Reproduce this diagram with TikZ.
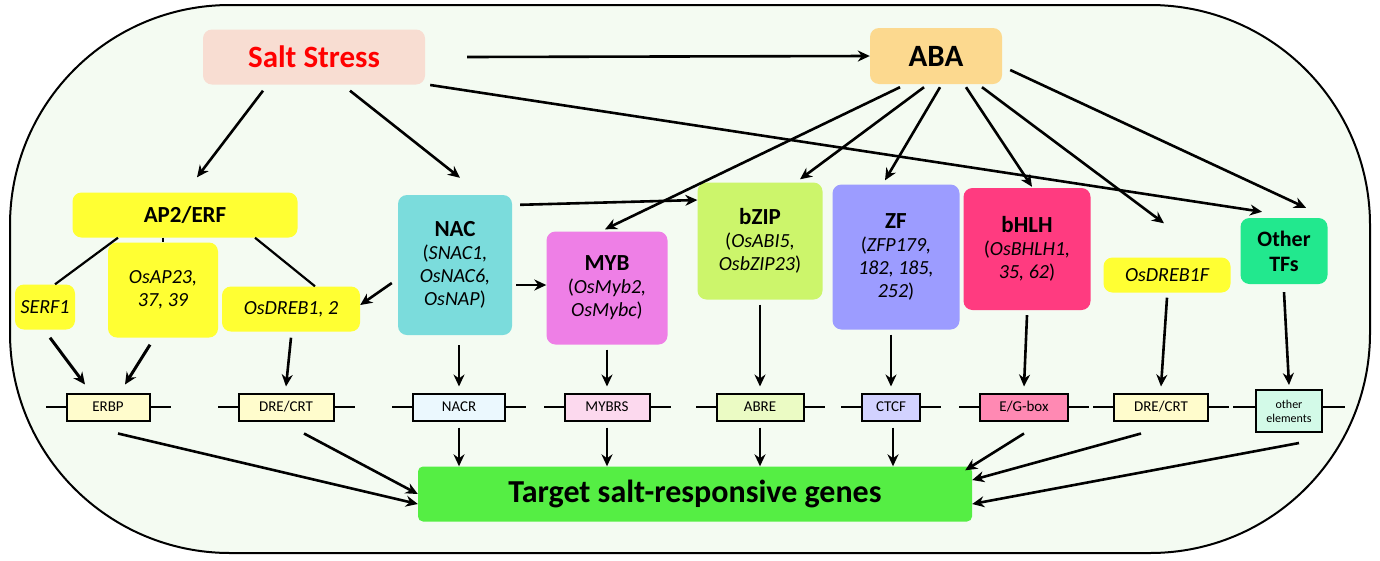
\documentclass[tikz,border=0pt]{standalone}
\usepackage{fontspec}
\setmainfont{Carlito}
\usetikzlibrary{arrows.meta}
\definecolor{Peach}{HTML}{F8DDD2}
\definecolor{AbaOr}{HTML}{FCD98F}
\definecolor{Yel}{HTML}{FFFF33}
\definecolor{NacC}{HTML}{7BDCDC}
\definecolor{MybC}{HTML}{EE7FE6}
\definecolor{BzipC}{HTML}{CCF56B}
\definecolor{ZfC}{HTML}{9C9CFF}
\definecolor{BhlhC}{HTML}{FF3B80}
\definecolor{OtherC}{HTML}{22E88E}
\definecolor{TgtC}{HTML}{55EE44}
\definecolor{Bg}{HTML}{F4FBF2}
\begin{document}
\begin{tikzpicture}[
          x=1pt,y=-1pt,
          % Environment Config
          TF/.style={% Style for the factor boxes
            rounded corners=9pt,
            align=center,
            inner sep=0pt,
            font=\fontsize{20}{23}\selectfont
          },
          Elem/.style={% Style for the cis elements
            draw,
            line width=2pt,
            minimum height=27pt,
            inner sep=2pt,
            font=\fontsize{15}{15}\selectfont
          },
          MyArrow/.style={% Style for the arrows
            -{Stealth[length=12pt,width=11pt]},
            line width=2.6pt
          },
          Link/.style={line width=2.2pt}
        ]

        \useasboundingbox (0,0) rectangle (1380,560);
        \draw[line width=2pt,fill=Bg,rounded corners=220pt] (10,5) rectangle (1370,553);

        % Top level
        \node[TF,fill=Peach,minimum width=222pt,minimum height=55pt,text=red,
              font=\fontsize{31}{31}\selectfont\bfseries] (salt) at (314,57) {Salt Stress};
        \node[TF,fill=AbaOr,minimum width=132pt,minimum height=56pt,
              font=\fontsize{31}{31}\selectfont\bfseries] (aba) at (936,56) {ABA};

        % Transcription factors
        \node[TF,fill=Yel,minimum width=225pt,minimum height=45pt,font=\fontsize{23}{23}\selectfont\bfseries] (ap2) at (185,215) {AP2/ERF};
        \node[TF,fill=Yel,minimum width=60pt,minimum height=45pt] (serf) at (45,307) {\itshape SERF1};
        \node[TF,fill=Yel,minimum width=110pt,minimum height=95pt] (osap) at (163,290) {\itshape OsAP23,\\ \itshape 37, 39};
        \node[TF,fill=Yel,minimum width=138pt,minimum height=45pt] (osdreb) at (291,309) {\itshape OsDREB1, 2};
        \node[TF,fill=NacC,minimum width=114pt,minimum height=140pt] (nac) at (455,265)
              {{\fontsize{23}{26}\selectfont\bfseries NAC}\\(\textit{SNAC1,}\\\textit{OsNAC6,}\\\textit{OsNAP})};
        \node[TF,fill=MybC,minimum width=121pt,minimum height=113pt] (myb) at (607,288)
              {{\fontsize{23}{26}\selectfont\bfseries MYB}\\(\textit{OsMyb2,}\\\textit{OsMybc})};
        \node[TF,fill=BzipC,minimum width=125pt,minimum height=117pt] (bzip) at (760,241)
              {{\fontsize{23}{26}\selectfont\bfseries bZIP}\\(\textit{OsABI5,}\\\textit{OsbZIP23})};
        \node[TF,fill=ZfC,minimum width=127pt,minimum height=145pt] (zf) at (896,257)
              {{\fontsize{23}{26}\selectfont\bfseries ZF}\\(\textit{ZFP179,}\\\textit{182, 185,}\\\textit{252})};
        \node[TF,fill=BhlhC,minimum width=127pt,minimum height=122pt] (bhlh) at (1027,249)
              {{\fontsize{23}{26}\selectfont\bfseries bHLH}\\(\textit{OsBHLH1,}\\\textit{35, 62})};
        \node[TF,fill=Yel,minimum width=127pt,minimum height=35pt] (dreb1f) at (1167,275) {\itshape OsDREB1F};
        \node[TF,fill=OtherC,minimum width=87pt,minimum height=66pt,font=\fontsize{22}{25}\selectfont\bfseries] (other) at (1284,251) {Other\\TFs};

        % Cis elements
        \node[Elem,fill=yellow!20,minimum width=83pt] (erbp) at (108,407) {ERBP};
        \node[Elem,fill=yellow!20,minimum width=95pt] (dre) at (286,407) {DRE/CRT};
        \node[Elem,fill=cyan!8,minimum width=92pt] (nacr) at (459,407) {NACR};
        \node[Elem,fill=magenta!15,minimum width=85pt] (mybrs) at (607,407) {MYBRS};
        \node[Elem,fill=BzipC!40,minimum width=87pt] (abre) at (760,407) {ABRE};
        \node[Elem,fill=ZfC!45,minimum width=58pt] (ctcf) at (891,407) {CTCF};
        \node[Elem,fill=BhlhC!60,minimum width=88pt] (egbox) at (1024,407) {E/G-box};
        \node[Elem,fill=yellow!20,minimum width=94pt] (dre2) at (1161,407) {DRE/CRT};
        \node[Elem,fill=OtherC!20,minimum width=66pt,minimum height=42pt,align=center,
              font=\fontsize{12}{14}\selectfont] (othel) at (1289,411) {other\\elements};
        \foreach \e in {erbp,dre,nacr,mybrs,abre,ctcf,egbox,dre2}{
          \draw[Link] (\e.west) -- ++(-20,0) (\e.east) -- ++(20,0);
        }
        \draw[Link] (othel.west) ++(0,-4) -- ++(-22,0) (othel.east) ++(0,-4) -- ++(22,0);

        \node[TF,rounded corners=5pt,fill=TgtC,minimum width=554pt,minimum height=55pt,
              font=\fontsize{32}{32}\selectfont\bfseries] (tgt) at (695,494) {Target salt-responsive genes};

        % Signalling arrows
        \draw[MyArrow] (salt.east) ++(42,0) -- (aba.west);
        \draw[MyArrow] ([xshift=-51pt,yshift=-6pt]salt.south) -- ([xshift=12pt,yshift=15pt]ap2.north);
        \draw[MyArrow] ([xshift=36pt,yshift=-6pt]salt.south) -- ([xshift=5pt,yshift=17pt]nac.north);
        \draw[MyArrow] ([xshift=5pt,yshift=-28pt]salt.east) -- ([xshift=-22pt,yshift=6pt]other.north);
        \draw[MyArrow] ([xshift=-36pt,yshift=-3pt]aba.south) -- ([xshift=-2pt,yshift=2pt]myb.north);
        \draw[MyArrow] ([xshift=-12pt,yshift=-3pt]aba.south) -- ([xshift=40pt,yshift=3pt]bzip.north);
        \draw[MyArrow] ([xshift=4pt,yshift=-3pt]aba.south) -- ([xshift=-11pt,yshift=4pt]zf.north);
        \draw[MyArrow] ([xshift=30pt,yshift=-3pt]aba.south) -- ([xshift=5pt,yshift=1pt]bhlh.north);
        \draw[MyArrow] ([xshift=46pt,yshift=-3pt]aba.south) -- ([xshift=-3pt,yshift=34pt]dreb1f.north);
        \draw[MyArrow] ([xshift=8pt,yshift=-14pt]aba.east) -- ([xshift=22pt,yshift=10pt]other.north);
        \draw[MyArrow] ([xshift=8pt,yshift=-10pt]nac.north east) -- ([yshift=41pt]bzip.west);
        \draw[MyArrow] ([xshift=-6pt,yshift=-18pt]nac.west) -- ([yshift=4pt]osdreb.east);
        \draw[MyArrow] ([xshift=4pt,yshift=-20pt]nac.east) -- ([yshift=3pt]myb.west);

        % AP2/ERF members
        \draw[Link] ([xshift=-67pt]ap2.south) -- ([xshift=10pt]serf.north);
        \draw[Link] (osap.north |- ap2.south) -- (osap.north);
        \draw[Link] ([xshift=70pt]ap2.south) -- ([xshift=24pt]osdreb.north);

        % Factors to elements
        \draw[MyArrow,line width=3pt] ([xshift=5pt,yshift=-8pt]serf.south) -- ([xshift=-23pt,yshift=8pt]erbp.north);
        \draw[MyArrow,line width=3pt] ([xshift=-13pt,yshift=-7pt]osap.south) -- ([xshift=17pt,yshift=8pt]erbp.north);
        \draw[MyArrow] ([yshift=-6pt]osdreb.south) -- ([yshift=6pt]dre.north);
        \draw[MyArrow] ([yshift=-10pt]nac.south -| nacr) -- ([yshift=6pt]nacr.north);
        \draw[MyArrow] ([yshift=-5pt]myb.south) -- ([yshift=6pt]mybrs.north);
        \draw[MyArrow] ([yshift=-5pt]bzip.south) -- ([yshift=6pt]abre.north);
        \draw[MyArrow] ([yshift=-5pt]zf.south -| ctcf) -- ([yshift=6pt]ctcf.north);
        \draw[MyArrow] ([yshift=-5pt]bhlh.south) -- ([yshift=6pt]egbox.north);
        \draw[MyArrow] ([yshift=-5pt]dreb1f.south) -- ([yshift=6pt]dre2.north);
        \draw[MyArrow] ([yshift=-8pt]other.south) -- ([yshift=4pt]othel.north);

        % Elements to target genes
        \draw[MyArrow] ([xshift=10pt,yshift=-12pt]erbp.south) -- ([yshift=-10pt]tgt.west);
        \draw[MyArrow] ([xshift=18pt,yshift=-12pt]dre.south) -- (tgt.west);
        \draw[MyArrow] ([yshift=-6pt]nacr.south) -- (nacr.south |- tgt.north);
        \draw[MyArrow] ([yshift=-6pt]mybrs.south) -- (mybrs.south |- tgt.north);
        \draw[MyArrow] ([yshift=-6pt]abre.south) -- (abre.south |- tgt.north);
        \draw[MyArrow] ([xshift=2pt,yshift=-6pt]ctcf.south) -- ([xshift=2pt]ctcf.south |- tgt.north);
        \draw[MyArrow] ([yshift=-12pt]egbox.south) -- ([xshift=-7pt,yshift=-4pt]tgt.north east);
        \draw[MyArrow] ([xshift=-20pt,yshift=-12pt]dre2.south) -- ([yshift=14pt]tgt.east);
        \draw[MyArrow] ([xshift=10pt,yshift=-10pt]othel.south) -- ([yshift=-10pt]tgt.east);

        \end{tikzpicture}
\end{document}
